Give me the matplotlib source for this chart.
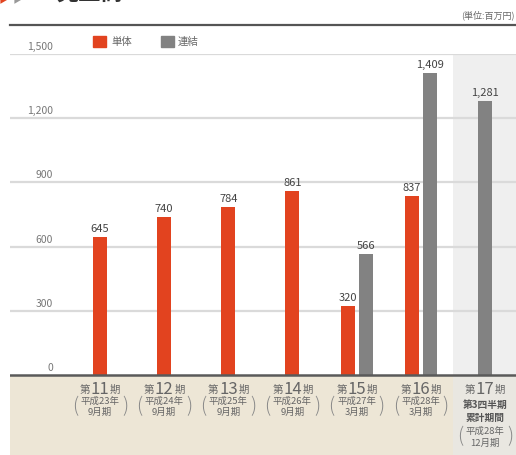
import matplotlib
matplotlib.use("Agg")
import matplotlib.pyplot as plt
from matplotlib.patches import Rectangle

plt.rcParams['font.family'] = ['Noto Sans CJK JP', 'DejaVu Sans']

# data
periods = ["11", "12", "13", "14", "15", "16", "17"]
sub_lines = [["平成23年", "9月期"], ["平成24年", "9月期"], ["平成25年", "9月期"],
             ["平成26年", "9月期"], ["平成27年", "3月期"], ["平成28年", "3月期"],
             ["平成28年", "12月期"]]
tantai = [645, 740, 784, 861, 320, 837, None]
renketsu = [None, None, None, None, 566, 1409, 1281]
yticks = [0, 300, 600, 900, 1200, 1500]
series_names = ["単体", "連結"]

RED = "#e2431f"
GRAY = "#828282"
TXT = "#666666"

W, H = 516, 455
fig = plt.figure(figsize=(W / 100, H / 100), dpi=100)


def fx(px):
    return px / W


def fy(py):
    return 1 - py / H


ax = fig.add_axes([fx(10), 0, 1 - fx(10), fy(54)])
ax.set_xlim(-1.402, 6.483)
ax.set_ylim(-374, 1500)
ax.axis("off")

# backgrounds
ax.axhspan(-374, 0, xmin=0, xmax=1, color="#ede6d6", lw=0, zorder=0)
ax.axvspan(5.5, 6.483, ymin=0, ymax=1, color="#efefef", lw=0, zorder=0.5)
ax.axvspan(5.5, 6.483, ymin=0, ymax=374 / 1874, color="#e9e7e1", lw=0, zorder=0.6)

# grid
for t in yticks:
    if t > 0:
        ax.axhline(t, color="#dadada", lw=1.6, zorder=1)
    ax.annotate(f"{t:,}", xy=(0.085, t), xycoords=("axes fraction", "data"),
                xytext=(0, 2), textcoords="offset pixels",
                ha="right", va="bottom", fontsize=7.5, color="#777777")
ax.axhline(0, color="#5a5a5a", lw=1.8, zorder=3)

# bars
bw = 0.218
for i in range(len(periods)):
    both = tantai[i] is not None and renketsu[i] is not None
    off = 0.14 if both else 0
    if tantai[i] is not None:
        ax.bar(i - off, tantai[i], width=bw, color=RED, zorder=2)
        ax.annotate(f"{tantai[i]:,}", xy=(i - off, tantai[i]), xytext=(0, 3),
                    textcoords="offset pixels", ha="center", va="bottom",
                    fontsize=8, color="#444444")
    if renketsu[i] is not None:
        ax.bar(i + off, renketsu[i], width=bw, color=GRAY, zorder=2)
        ax.annotate(f"{renketsu[i]:,}", xy=(i + off, renketsu[i]), xytext=(0, 3),
                    textcoords="offset pixels", ha="center", va="bottom",
                    fontsize=8, color="#444444")

# category labels
tr = ax.get_xaxis_transform()


def ya(py):
    return fy(py) / fy(54)


for i, p in enumerate(periods):
    ax.text(i, ya(389), p, transform=tr, ha="center", va="center",
            fontsize=12, color=TXT)
    ax.annotate("第", xy=(i, ya(390)), xycoords=tr, xytext=(-10, 0),
                textcoords="offset pixels", ha="right", va="center",
                fontsize=7.5, color=TXT)
    ax.annotate("期", xy=(i, ya(390)), xycoords=tr, xytext=(10, 0),
                textcoords="offset pixels", ha="left", va="center",
                fontsize=7.5, color=TXT)
    if i < 6:
        y1, y2, yc = 401, 412, 406.5
    else:
        ax.text(i, ya(405), "第3四半期", transform=tr, ha="center",
                va="center", fontsize=7, color="#555555", fontweight="bold")
        ax.text(i, ya(418), "累計期間", transform=tr, ha="center",
                va="center", fontsize=7, color="#555555", fontweight="bold")
        y1, y2, yc = 431, 443, 437
    ax.text(i, ya(y1), sub_lines[i][0], transform=tr, ha="center",
            va="center", fontsize=6.8, color=TXT)
    ax.text(i, ya(y2), sub_lines[i][1], transform=tr, ha="center",
            va="center", fontsize=6.8, color=TXT)
    for s, dx in (("(", -25), (")", 25)):
        ax.annotate(s, xy=(i, ya(yc)), xycoords=tr, xytext=(dx, 0),
                    textcoords="offset pixels", ha="center", va="center",
                    fontsize=14, color="#888888", fontweight="light")

# top rule, title, unit
fig.add_artist(plt.Line2D([fx(10), 1], [fy(25), fy(25)], color="#555555", lw=1.6))
fig.text(fx(-2), fy(-3), "▶", color=RED, fontsize=14, ha="left", va="center")
fig.text(fx(12), fy(-3), "▶", color="#999999", fontsize=14, ha="left", va="center")
fig.text(fx(56), fy(-6), "売上高", color="#333333", fontsize=16,
         fontweight="bold", ha="left", va="center")
fig.text(fx(515), fy(15), "(単位:百万円)", color=TXT, fontsize=6.5,
         ha="right", va="center")

# legend
fig.add_artist(Rectangle((fx(93), fy(47)), fx(13), 11 / H, color=RED))
fig.text(fx(111), fy(41.5), series_names[0], color=TXT, fontsize=7.5, va="center")
fig.add_artist(Rectangle((fx(161), fy(47)), fx(13), 11 / H, color=GRAY))
fig.text(fx(178), fy(41.5), series_names[1], color=TXT, fontsize=7.5, va="center")

fig.savefig("out.png", dpi=100)
